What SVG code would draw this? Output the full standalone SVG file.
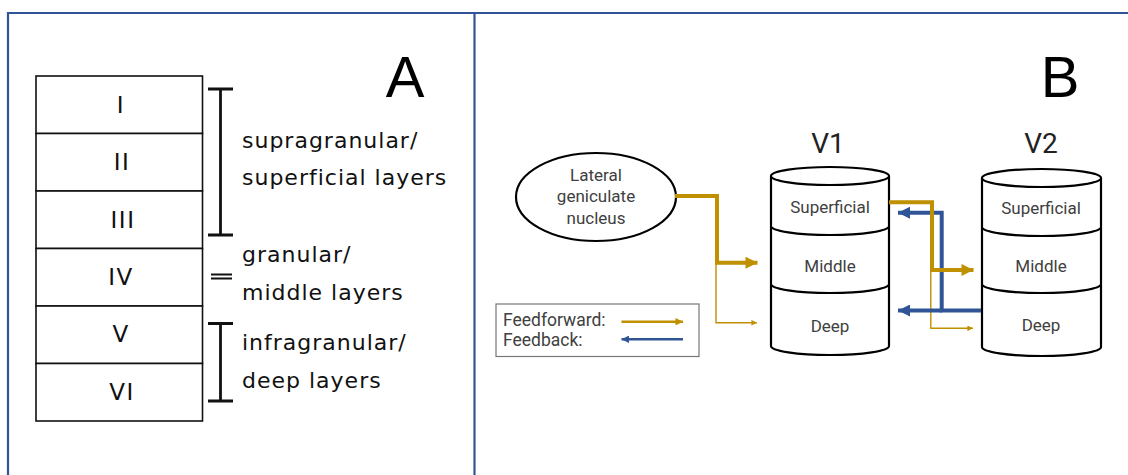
<svg xmlns="http://www.w3.org/2000/svg" width="1128" height="475" viewBox="0 0 1128 475">
<style>
.frame{fill:none;stroke:#2F5597;stroke-width:2.2}
.layer{fill:#fff;stroke:#111;stroke-width:1.6}
.rn{font-family:"DejaVu Sans",sans-serif;font-size:23px;letter-spacing:1.5px;fill:#111;text-anchor:middle}
.lbl{font-family:"DejaVu Sans",sans-serif;font-size:22px;letter-spacing:1px;fill:#111}
.brk{stroke:#111;stroke-width:2.8;fill:none}
.big{font-family:"Liberation Sans",Arial,sans-serif;font-size:58px;fill:#000;text-anchor:middle}
.cyl{fill:#fff;stroke:#000;stroke-width:2.2}
.cl{font-family:Roboto,"Liberation Sans",sans-serif;font-size:17px;fill:#404040;text-anchor:middle}
.vt{font-family:Roboto,"Liberation Sans",sans-serif;font-size:28px;fill:#222;text-anchor:middle}
.ff{fill:none;stroke:#BF9000}
.fb{fill:none;stroke:#2F5597}
.lg{font-family:Roboto,"Liberation Sans",sans-serif;font-size:17.5px;fill:#404040}
</style>
<defs>
<marker id="ahG" viewBox="0 0 10 10" refX="10" refY="5" markerWidth="3.4" markerHeight="3" orient="auto" markerUnits="strokeWidth"><path d="M0,0L10,5L0,10z" fill="#BF9000"/></marker>
<marker id="ahB" viewBox="0 0 10 10" refX="10" refY="5" markerWidth="3.4" markerHeight="3" orient="auto" markerUnits="strokeWidth"><path d="M0,0L10,5L0,10z" fill="#2F5597"/></marker>
<marker id="ahGs" viewBox="0 0 10 10" refX="10" refY="5" markerWidth="5" markerHeight="4" orient="auto" markerUnits="strokeWidth"><path d="M0,0L10,5L0,10z" fill="#BF9000"/></marker>
</defs>
<rect width="1128" height="475" fill="#fff"/>
<g id="frames">
<path class="frame" d="M8,476V13H1130"/>
<path class="frame" d="M474.5,13V476"/>
</g>
<g id="panelA">
<g id="layers">
<rect class="layer" x="36" y="76" width="166.5" height="57.5"/>
<rect class="layer" x="36" y="133.5" width="166.5" height="57.5"/>
<rect class="layer" x="36" y="191" width="166.5" height="57.5"/>
<rect class="layer" x="36" y="248.5" width="166.5" height="57.5"/>
<rect class="layer" x="36" y="306" width="166.5" height="57.5"/>
<rect class="layer" x="36" y="363.5" width="166.5" height="57.5"/>
<text class="rn" x="121" y="113">I</text>
<text class="rn" x="122" y="170">II</text>
<text class="rn" x="123" y="228">III</text>
<text class="rn" x="121" y="285">IV</text>
<text class="rn" x="121" y="342">V</text>
<text class="rn" x="122" y="400">VI</text>
</g>
<g id="brackets">
<path class="brk" d="M208,89H233M220.5,89V235M208,235H233"/>
<path d="M211,274.5H232M211,278.5H232" stroke="#111" stroke-width="2"/>
<path class="brk" d="M208,323.5H233M220.5,323.5V401M208,401H233"/>
</g>
<text class="lbl" x="242" y="148">supragranular/</text>
<text class="lbl" x="242" y="185">superficial layers</text>
<text class="lbl" x="242" y="262">granular/</text>
<text class="lbl" x="242" y="300">middle layers</text>
<text class="lbl" x="242" y="350">infragranular/</text>
<text class="lbl" x="242" y="388">deep layers</text>
<text class="big" x="405" y="97">A</text>
</g>
<g id="panelB">
<text class="big" x="1060" y="97">B</text>
<g id="lgn">
<ellipse cx="596" cy="197" rx="80" ry="44" fill="#fff" stroke="#000" stroke-width="2.2"/>
<text class="cl" x="596" y="181">Lateral</text>
<text class="cl" x="596" y="202">geniculate</text>
<text class="cl" x="596" y="224">nucleus</text>
</g>
<g id="v1">
<text class="vt" x="828" y="153">V1</text>
<path class="cyl" d="M771,176V346A59,9 0 0 0 889,346V176"/>
<ellipse class="cyl" cx="830" cy="176" rx="59" ry="9"/>
<path class="cyl" d="M771,226A59,9 0 0 0 889,226" fill="none"/>
<path class="cyl" d="M771,284A59,9 0 0 0 889,284" fill="none"/>
<text class="cl" x="830" y="213">Superficial</text>
<text class="cl" x="830" y="272">Middle</text>
<text class="cl" x="830" y="332">Deep</text>
</g>
<g id="v2">
<text class="vt" x="1041" y="153">V2</text>
<path class="cyl" d="M982,178V347A59.5,9 0 0 0 1101,347V178"/>
<ellipse class="cyl" cx="1041.5" cy="178" rx="59.5" ry="9"/>
<path class="cyl" d="M982,227A59.5,9 0 0 0 1101,227" fill="none"/>
<path class="cyl" d="M982,284A59.5,9 0 0 0 1101,284" fill="none"/>
<text class="cl" x="1041" y="214">Superficial</text>
<text class="cl" x="1041" y="272">Middle</text>
<text class="cl" x="1041" y="331">Deep</text>
</g>
<g id="legend">
<rect x="496" y="304" width="203" height="52.5" fill="#fff" stroke="#777" stroke-width="1.2"/>
<text class="lg" x="503" y="326">Feedforward:</text>
<text class="lg" x="503" y="346">Feedback:</text>
<path class="ff" stroke-width="2.5" d="M621.5,321.7H683" marker-end="url(#ahG)"/>
<path class="fb" stroke-width="2.5" d="M683,339.3H621.5" marker-end="url(#ahB)"/>
</g>
<g id="connectors">
<path class="ff" stroke-width="1.4" d="M716,262.7V322.7H757" marker-end="url(#ahGs)"/>
<path class="ff" stroke-width="4" d="M675,196H717V262.7H757.5" marker-end="url(#ahG)"/>
<path class="ff" stroke-width="1.4" d="M930.8,270V328.3H973" marker-end="url(#ahGs)"/>
<path class="fb" stroke-width="4" d="M981,310.5H941.7V212.7H898" marker-end="url(#ahB)"/>
<path class="fb" stroke-width="4" d="M942,310.5H898" marker-end="url(#ahB)"/>
<path class="ff" stroke-width="4" d="M889,202.3H932V270H973.5" marker-end="url(#ahG)"/>
</g>
</g>
</svg>
